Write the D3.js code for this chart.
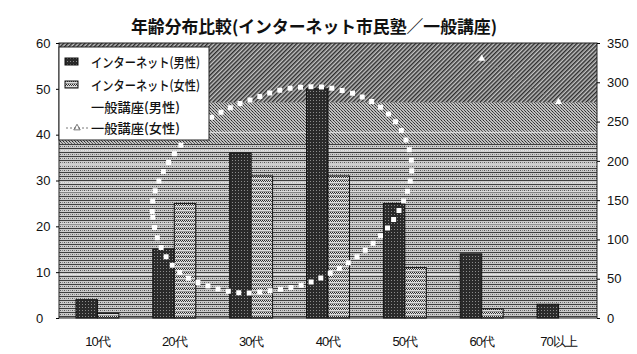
<!DOCTYPE html>
<html><head><meta charset="utf-8">
<script src="https://cdn.jsdelivr.net/npm/d3@7"></script>
<style>
html,body{margin:0;padding:0;background:#fff;}
svg{display:block;font-family:"Noto Sans CJK JP","Noto Sans",sans-serif;}
</style></head>
<body>
<svg id="chart" width="637" height="354"></svg>
<script>
// ---- data ----
const title = "年齢分布比較(インターネット市民塾／一般講座)";
const categories = ["10代","20代","30代","40代","50代","60代","70以上"];
const seriesNames = ["インターネット(男性)","インターネット(女性)","一般講座(男性)","一般講座(女性)"];
const netMale   = [4, 15, 36, 50, 25, 14, 3];
const netFemale = [1, 25, 31, 31, 11, 2, 0];
const generalFemale = [null, null, null, null, null, 330, 275]; // right axis (earlier values off the chart)
// 一般講座(男性): white dotted closed trace as seen in picture (category position, left-axis value)
const loopPos = [0.72,0.72,0.79,0.92,1.11,1.40,1.85,2.31,2.74,3.15,3.52,3.83,4.03,4.09,4.04,3.91,3.70,3.42,3.02,2.67,2.37,2.09,1.72,1.33,1.11,0.92,0.79];
const loopVal = [25.7,22.0,17.0,12.7,9.4,7.2,5.5,6.1,7.6,10.9,15.3,20.9,27.5,32.7,37.7,42.1,45.8,48.4,50.2,50.4,49.7,48.2,45.8,42.1,38.2,33.8,29.5];
const leftTicks = [0,10,20,30,40,50,60];
const rightTicks = [0,50,100,150,200,250,300,350];

// ---- layout ----
const L = 59, R = 597, T = 43, B = 318;
const svg = d3.select("#chart");
const defs = svg.append("defs");

function pat(id, w, h, bg, cells, transform) {
  const p = defs.append("pattern").attr("id", id).attr("patternUnits","userSpaceOnUse")
    .attr("width", w).attr("height", h);
  if (transform) p.attr("patternTransform", transform);
  p.append("rect").attr("width", w).attr("height", h).attr("fill", bg);
  cells.forEach(c => p.append("rect").attr("x", c[0]).attr("y", c[1])
    .attr("width", c[2]).attr("height", c[3]).attr("fill", c[4]));
}
pat("hatch", 3, 3, "#c4c4c4", [[0,0,1.5,3,"#2e2e2e"]], "rotate(45)");
pat("dots", 3, 3, "#c0c0c0", [[0,0,1,1,"#2a2a2a"],[1,1,1,1,"#555"],[2,2,1,1,"#444"]]);
pat("grid", 4, 4, "#cacaca", [[0,0,4,1,"#3e3e3e"],[0,2,1,1,"#555"],[2,2,1,1,"#888"]]);
pat("darkbar", 3, 3, "#2a2a2a", [[1,1,1,1,"#8c8c8c"]]);
pat("lightbar", 4, 4, "#dedede", [[0,0,1,1,"#2a2a2a"],[2,0,1,1,"#2a2a2a"],[1,1,1,1,"#3a3a3a"],[3,1,1,1,"#3a3a3a"],[0,3,4,1,"#9a9a9a"]]);

// ---- scales ----
const x = d3.scaleBand().domain(categories).range([L, R]).padding(0);
const xSub = d3.scaleBand().domain([0,1]).range([0, x.bandwidth()]).paddingInner(0).paddingOuter(0.79);
const xPos = d3.scaleLinear().domain([0, 1]).range([x(categories[0]) + x.bandwidth()/2, x(categories[1]) + x.bandwidth()/2]);
const y = d3.scaleLinear().domain([0, 60]).range([B, T]);
const y2 = d3.scaleLinear().domain([0, 350]).range([B, T]);

// ---- plot background texture ----
const bg = svg.append("g");
bg.append("rect").attr("x", L).attr("y", T).attr("width", R-L).attr("height", B-T).attr("fill","url(#grid)");
bg.append("rect").attr("x", L).attr("y", T).attr("width", R-L).attr("height", y(47)-T).attr("fill","url(#hatch)");
bg.append("rect").attr("x", L).attr("y", y(47)).attr("width", R-L).attr("height", y(38)-y(47)).attr("fill","url(#dots)");
[40.5, 36.5, 33.5, 29.5, 27.5, 20.5, 9.5].forEach(v => {
  bg.append("line").attr("x1", L).attr("x2", R).attr("y1", y(v)).attr("y2", y(v))
    .attr("stroke","#f2f2f2").attr("stroke-width",1).attr("opacity",0.85);
});

// ---- bars ----
const bars = svg.append("g");
bars.selectAll("rect.m").data(netMale).join("rect").attr("class","m")
  .attr("x", (d,i) => x(categories[i]) + xSub(0)).attr("width", xSub.bandwidth())
  .attr("y", d => y(d)).attr("height", d => B - y(d))
  .attr("fill","url(#darkbar)").attr("stroke","#111").attr("stroke-width",1);
bars.selectAll("rect.f").data(netFemale).join("rect").attr("class","f")
  .attr("x", (d,i) => x(categories[i]) + xSub(1)).attr("width", xSub.bandwidth())
  .attr("y", d => y(d)).attr("height", d => B - y(d))
  .attr("fill","url(#lightbar)").attr("stroke","#111").attr("stroke-width",1)
  .attr("display", d => d > 0 ? null : "none");

// ---- 一般講座(男性) white dotted trace ----
const loopPts = loopPos.map((p,i) => [xPos(p), y(loopVal[i])]);
svg.append("path").attr("d", d3.line().curve(d3.curveCatmullRomClosed)(loopPts))
  .attr("fill","none").attr("stroke","#fff").attr("stroke-width",5)
  .attr("stroke-linecap","square").attr("stroke-dasharray","0 10.5");

// ---- 一般講座(女性) thin dotted line with markers ----
const gf = generalFemale.map((v,i) => ({v, i})).filter(d => d.v !== null);
svg.append("path").attr("d", d3.line().x(d => x(categories[d.i]) + x.bandwidth()/2).y(d => y2(d.v))(gf))
  .attr("fill","none").attr("stroke","#777").attr("stroke-width",0.7).attr("stroke-dasharray","1.5 2");
svg.selectAll("path.mk").data(gf).join("path").attr("class","mk")
  .attr("d", d3.symbol(d3.symbolTriangle, 22))
  .attr("transform", d => `translate(${x(categories[d.i]) + x.bandwidth()/2},${y2(d.v)})`)
  .attr("fill","#fff");

// ---- frame & axes ----
svg.append("rect").attr("x", L).attr("y", T).attr("width", R-L).attr("height", B-T)
  .attr("fill","none").attr("stroke","#222").attr("stroke-width",1);

const axL = svg.append("g").attr("transform", `translate(${L},0)`)
  .call(d3.axisLeft(y).tickValues(leftTicks).tickSize(3).tickFormat(d3.format("d")));
axL.select(".domain").remove();
axL.selectAll("text").attr("x", -23).attr("text-anchor","start")
  .style("font-family","'Liberation Sans',sans-serif").style("font-size","13px").attr("fill","#111");

const axR = svg.append("g").attr("transform", `translate(${R},0)`)
  .call(d3.axisRight(y2).tickValues(rightTicks).tickSize(3).tickFormat(d3.format("d")));
axR.select(".domain").remove();
axR.selectAll("text").attr("x", 10)
  .style("font-family","'Liberation Sans',sans-serif").style("font-size","13px").attr("fill","#111");

const axB = svg.append("g").attr("transform", `translate(0,${B})`)
  .call(d3.axisBottom(x).tickSize(0));
axB.select(".domain").remove();
axB.selectAll("text").attr("y", 19).attr("dy","0.71em")
  .style("font-size","13px").attr("fill","#111").attr("letter-spacing","-1px");

// ---- title ----
svg.append("text").attr("x", 314).attr("y", 33).attr("text-anchor","middle")
  .attr("textLength", 366).attr("lengthAdjust","spacingAndGlyphs")
  .style("font-size","17px").style("font-weight","bold").attr("fill","#111").text(title);

// ---- legend ----
const lg = svg.append("g");
lg.append("rect").attr("x", 59).attr("y", 47).attr("width", 150).attr("height", 93)
  .attr("fill","#fff").attr("stroke","#222").attr("stroke-width",1);
const rowsY = [62, 85, 107, 128];
const textLens = [109, 109, 89, 89];
lg.append("rect").attr("x",65).attr("y",rowsY[0]-4).attr("width",13).attr("height",7)
  .attr("fill","url(#darkbar)").attr("stroke","#111");
lg.append("rect").attr("x",65).attr("y",rowsY[1]-4).attr("width",13).attr("height",7)
  .attr("fill","url(#lightbar)").attr("stroke","#111");
lg.append("line").attr("x1",66).attr("x2",88).attr("y1",rowsY[2]).attr("y2",rowsY[2])
  .attr("stroke","#fff").attr("stroke-width",3);
lg.append("line").attr("x1",66).attr("x2",88).attr("y1",rowsY[3]).attr("y2",rowsY[3])
  .attr("stroke","#555").attr("stroke-width",0.8).attr("stroke-dasharray","2 2");
lg.append("path").attr("d", d3.symbol(d3.symbolTriangle, 18)).attr("transform",`translate(77,${rowsY[3]})`)
  .attr("fill","none").attr("stroke","#555").attr("stroke-width",0.8);
lg.selectAll("text.lt").data(seriesNames).join("text").attr("class","lt")
  .attr("x", 91).attr("y", (d,i) => rowsY[i] + 5)
  .attr("textLength", (d,i) => textLens[i]).attr("lengthAdjust","spacingAndGlyphs")
  .style("font-size","13px").style("font-weight","500").attr("fill","#111").text(d => d);
</script>
</body></html>
